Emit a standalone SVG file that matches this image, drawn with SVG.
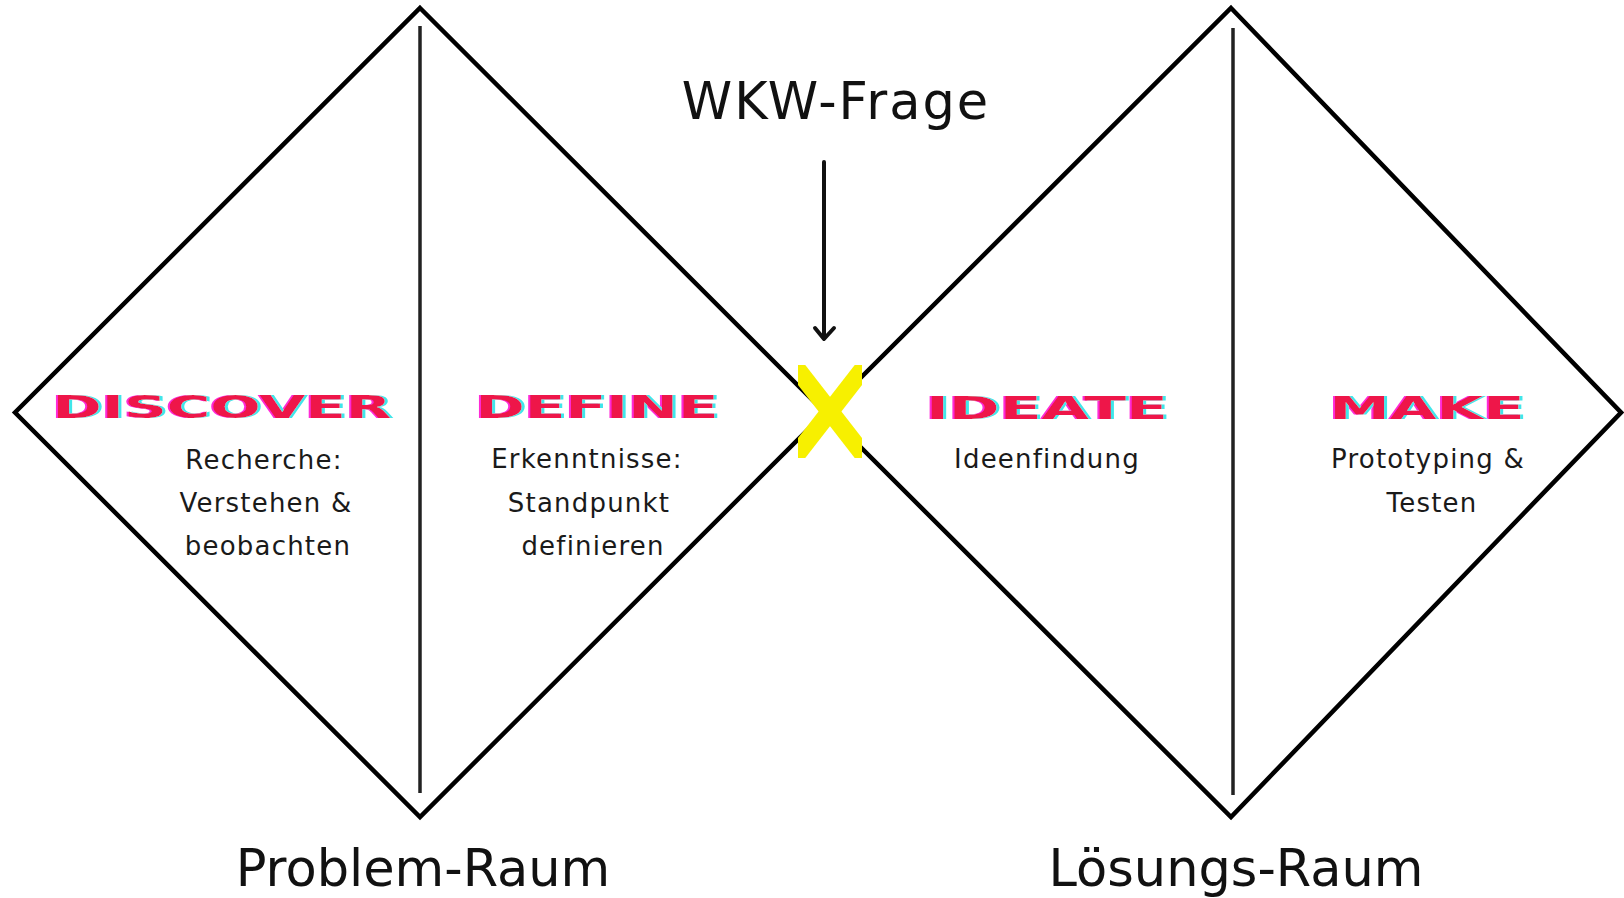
<svg xmlns="http://www.w3.org/2000/svg" width="1624" height="898" viewBox="0 0 1624 898">
<defs>
<filter id="glitch" x="-5%" y="-20%" width="110%" height="140%">
<feOffset in="SourceAlpha" dx="-2.5" dy="0" result="a"/>
<feFlood flood-color="#ff2bd6"/>
<feComposite in2="a" operator="in" result="m"/>
<feOffset in="SourceAlpha" dx="2.5" dy="0" result="b"/>
<feFlood flood-color="#3fe6ea"/>
<feComposite in2="b" operator="in" result="c"/>
<feMerge><feMergeNode in="m"/><feMergeNode in="c"/><feMergeNode in="SourceGraphic"/></feMerge>
</filter>
<clipPath id="xclip"><rect x="798" y="365" width="64" height="93"/></clipPath>
</defs>
<style>
.dia{fill:none;stroke:#000;stroke-width:4.5;stroke-linejoin:miter}
.div{stroke:#222;stroke-width:3.5}
.body{font-family:"DejaVu Sans","Noto Sans",sans-serif;font-size:26px;letter-spacing:1.2px;fill:#1a1a1a;text-anchor:middle}
.big{font-family:"DejaVu Sans","Noto Sans",sans-serif;font-size:51px;fill:#111;text-anchor:middle}
.ttl{font-family:"DejaVu Sans",sans-serif;font-weight:bold;font-size:32px;text-anchor:middle;fill:#ee1249;filter:url(#glitch)}
.arr{fill:none;stroke:#111;stroke-width:4;stroke-linecap:round;stroke-linejoin:round}
.yx{stroke:#f7f000;stroke-width:18}
</style>
<rect width="1624" height="898" fill="#fff"/>
<g id="problem-raum">
<polygon class="dia" points="420,8 825,412.5 420,817 15,412.5"/>
<line class="div" x1="420" y1="26" x2="420" y2="793"/>
<text class="big" x="423" y="886">Problem-Raum</text>
</g>
<g id="loesungs-raum">
<polygon class="dia" points="1231,8 1621,412.5 1231,817 826,412.5"/>
<line class="div" x1="1233" y1="28" x2="1233" y2="795"/>
<text class="big" x="1236" y="886">Lösungs-Raum</text>
</g>
<g id="discover">
<text class="ttl" x="222" y="418" textLength="339" lengthAdjust="spacingAndGlyphs">DISCOVER</text>
<text class="body" x="264" y="469">Recherche:</text>
<text class="body" x="266" y="512">Verstehen &amp;</text>
<text class="body" x="268" y="555">beobachten</text>
</g>
<g id="define">
<text class="ttl" x="597" y="418" textLength="243" lengthAdjust="spacingAndGlyphs">DEFINE</text>
<text class="body" x="587" y="468">Erkenntnisse:</text>
<text class="body" x="589" y="512">Standpunkt</text>
<text class="body" x="593" y="555">definieren</text>
</g>
<g id="ideate">
<text class="ttl" x="1047" y="419" textLength="242" lengthAdjust="spacingAndGlyphs">IDEATE</text>
<text class="body" x="1047" y="468">Ideenfindung</text>
</g>
<g id="make">
<text class="ttl" x="1427" y="419" textLength="195" lengthAdjust="spacingAndGlyphs">MAKE</text>
<text class="body" x="1428" y="468">Prototyping &amp;</text>
<text class="body" x="1432" y="512">Testen</text>
</g>
<g id="wkw-frage">
<text class="big" x="836" y="119" font-size="49" letter-spacing="2">WKW-Frage</text>
</g>
<g id="cross" clip-path="url(#xclip)">
<line class="yx" x1="790" y1="360" x2="870" y2="463"/>
<line class="yx" x1="870" y1="360" x2="790" y2="463"/>
</g>
<g id="connectors">
<line class="arr" x1="824" y1="162" x2="824" y2="338"/>
<polyline class="arr" points="815,328 824,339 834,328"/>
</g>
</svg>
